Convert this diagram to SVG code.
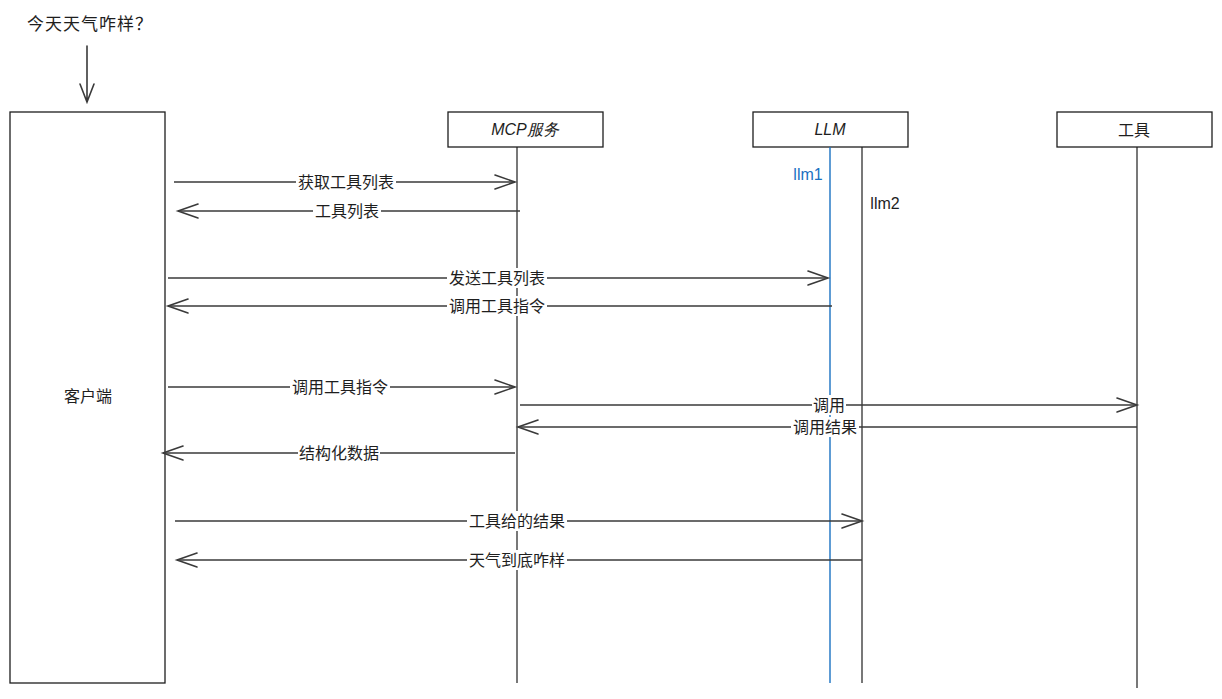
<svg xmlns="http://www.w3.org/2000/svg" width="1222" height="699" viewBox="0 0 1222 699">
<style>
.box{fill:#fff;stroke:#1e1e1e;stroke-width:1.3}
.life{stroke:#1e1e1e;stroke-width:1.2;fill:none}
.msg{stroke:#3a3a3a;stroke-width:1.6;fill:none}
.ah{stroke:#3a3a3a;stroke-width:1.6;fill:none;stroke-linecap:round}
text{font-family:"Noto Sans CJK SC","Liberation Sans",sans-serif;font-size:16px;fill:#1e1e1e;text-anchor:middle;dominant-baseline:central}
.lbg{fill:#fff}
</style>
<rect width="1222" height="699" fill="#fff"/>
<g id="question"><text x="90" y="22" style="font-size:17px;letter-spacing:1px">今天天气咋样？</text>
<path class="ah" d="M87 46 V102 M80 84 L87 102 L94 84"/></g>
<g id="client"><rect class="box" x="10" y="112" width="155" height="571"/><text x="88" y="395">客户端</text></g>
<g id="mcp"><rect class="box" x="448" y="112" width="155" height="35"/><text x="525" y="129" style="font-family:'Liberation Sans',sans-serif;font-style:italic">MCP服务</text><line class="life" x1="517" y1="147" x2="517" y2="683"/></g>
<g id="llm"><rect class="box" x="753" y="112" width="155" height="35"/><text x="830" y="129" style="font-family:'Liberation Sans',sans-serif;font-style:italic">LLM</text>
<line x1="830" y1="147" x2="830" y2="683" stroke="#1971c2" stroke-width="1.4"/>
<line class="life" x1="862" y1="147" x2="862" y2="683"/>
<text x="808" y="174" style="fill:#1971c2;font-family:'Liberation Sans',sans-serif">llm1</text>
<text x="885" y="203" style="font-family:'Liberation Sans',sans-serif">llm2</text></g>
<g id="tool"><rect class="box" x="1057" y="112" width="155" height="35"/><text x="1134" y="129">工具</text><line class="life" x1="1137" y1="147" x2="1137" y2="688"/></g>
<g id="connectors">
<path class="msg" d="M174 182 H515"/><path class="ah" d="M495 175 L515 182 L495 189"/>
<rect class="lbg" x="296" y="172" width="100" height="20"/><text x="346" y="181">获取工具列表</text>
<path class="msg" d="M520 211 H178"/><path class="ah" d="M198 204 L178 211 L198 218"/>
<rect class="lbg" x="313" y="201" width="68" height="20"/><text x="347" y="210">工具列表</text>
<path class="msg" d="M168 278 H828" stroke-width="2.2"/><path class="ah" d="M808 271 L828 278 L808 285"/>
<rect class="lbg" x="447" y="268" width="100" height="20"/><text x="497" y="277">发送工具列表</text>
<path class="msg" d="M832 306 H168"/><path class="ah" d="M188 299 L168 306 L188 313"/>
<rect class="lbg" x="447" y="296" width="100" height="20"/><text x="497" y="305">调用工具指令</text>
<path class="msg" d="M168 387 H515"/><path class="ah" d="M495 380 L515 387 L495 394"/>
<rect class="lbg" x="290" y="377" width="100" height="20"/><text x="340" y="386">调用工具指令</text>
<path class="msg" d="M520 405 H1137" stroke-width="2"/><path class="ah" d="M1117 398 L1137 405 L1117 412"/>
<rect class="lbg" x="812" y="395" width="34" height="20"/><text x="829" y="404">调用</text>
<path class="msg" d="M1137 427 H518"/><path class="ah" d="M538 420 L518 427 L538 434"/>
<rect class="lbg" x="791" y="417" width="68" height="20"/><text x="825" y="426">调用结果</text>
<path class="msg" d="M515 453 H163"/><path class="ah" d="M183 446 L163 453 L183 460"/>
<rect class="lbg" x="298" y="443" width="82" height="20"/><text x="339" y="452">结构化数据</text>
<path class="msg" d="M175 521 H862"/><path class="ah" d="M842 514 L862 521 L842 528"/>
<rect class="lbg" x="467" y="511" width="100" height="20"/><text x="517" y="520">工具给的结果</text>
<path class="msg" d="M862 560 H177"/><path class="ah" d="M197 553 L177 560 L197 567"/>
<rect class="lbg" x="467" y="550" width="100" height="20"/><text x="517" y="559">天气到底咋样</text>
</g>
</svg>
